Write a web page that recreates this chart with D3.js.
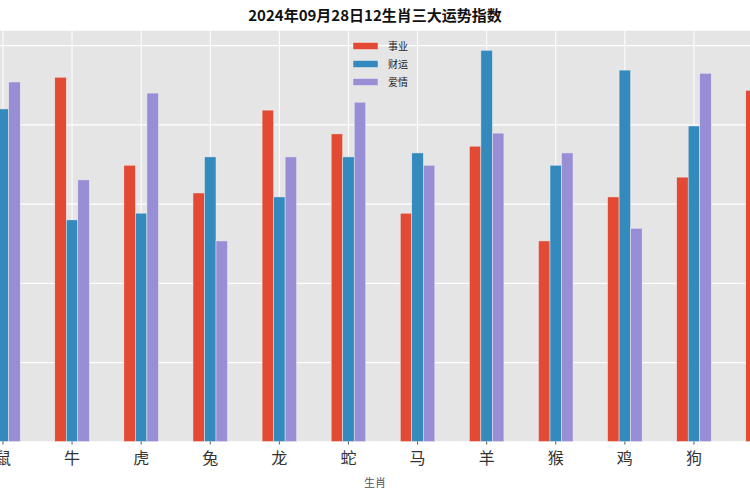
<!DOCTYPE html>
<html>
<head>
<meta charset="utf-8">
<script src="https://cdn.jsdelivr.net/npm/d3@7"></script>
<style>
  body { margin: 0; background: #fff; }
  text { font-family: "Noto Sans CJK SC", "Noto Sans", sans-serif; }
</style>
</head>
<body>
<script>
// data
var zodiac = ["鼠", "牛", "虎", "兔", "龙", "蛇", "马", "羊", "猴", "鸡", "狗", "猪"];
var seriesNames = ["事业", "财运", "爱情"];
var career = [80.0, 91.9, 69.7, 62.7, 83.6, 77.6, 57.6, 74.5, 50.6, 61.7, 66.7, 88.6];
var wealth = [83.9, 55.9, 57.6, 71.8, 61.7, 71.8, 72.8, 98.7, 69.7, 93.7, 79.6, 70.0];
var love   = [90.7, 66.0, 87.9, 50.6, 71.8, 85.6, 69.7, 77.8, 72.8, 53.8, 92.9, 80.0];
var yTicks = [0, 20, 40, 60, 80, 100];
var colors = ["#E24A33", "#348ABD", "#988ED5"];

var width = 750;
var height = 500;

var svg = d3.select("body")
  .append("svg")
  .attr("width", width)
  .attr("height", height);

// plot area is wider than the picture, both sides are cut off
var plot = {left: -31.6, right: 797.6, top: 30.7, bottom: 441.5};

var series = [career, wealth, love];
var maxVal = d3.max(series, function(s){ return d3.max(s); });

var x = d3.scaleBand()
  .domain(zodiac)
  .range([plot.left, plot.right])
  .padding(0);

var inner = d3.scaleBand()
  .domain(d3.range(series.length))
  .range([x.bandwidth() * 0.25, x.bandwidth() * 0.75]);

var y = d3.scaleLinear()
  .domain([0, maxVal * 1.05])
  .range([plot.bottom, plot.top]);

svg.append("rect")
  .attr("x", plot.left)
  .attr("y", plot.top)
  .attr("width", plot.right - plot.left)
  .attr("height", plot.bottom - plot.top)
  .attr("fill", "#E5E5E5");

// horizontal grid
var yAxis = d3.axisLeft(y)
  .tickValues(yTicks)
  .tickSize(-(plot.right - plot.left))
  .tickFormat("");

svg.append("g")
  .attr("class", "grid")
  .attr("transform", "translate(" + plot.left + ",0)")
  .call(yAxis)
  .call(function(g){
    g.select(".domain").remove();
    g.selectAll("line").attr("stroke", "#fff").attr("stroke-width", 1.2);
  });

// vertical grid
svg.append("g")
  .selectAll("line")
  .data(zodiac)
  .enter()
  .append("line")
  .attr("x1", function(d){ return x(d) + x.bandwidth() / 2; })
  .attr("x2", function(d){ return x(d) + x.bandwidth() / 2; })
  .attr("y1", plot.top)
  .attr("y2", plot.bottom)
  .attr("stroke", "#fff")
  .attr("stroke-width", 1);

// bars
series.forEach(function(s, k){
  svg.append("g")
    .selectAll("rect")
    .data(s)
    .enter()
    .append("rect")
    .attr("x", function(d, i){ return x(zodiac[i]) + inner(k); })
    .attr("y", function(d){ return y(d); })
    .attr("width", inner.bandwidth())
    .attr("height", function(d){ return y(0) - y(d); })
    .attr("fill", colors[k])
    .attr("stroke", "#EEEEEE")
    .attr("stroke-width", 0.5);
});

// x axis
var xAxis = d3.axisBottom(x)
  .tickSize(3)
  .tickPadding(8);

svg.append("g")
  .attr("transform", "translate(0," + plot.bottom + ")")
  .call(xAxis)
  .call(function(g){
    g.select(".domain").remove();
    g.selectAll("line").attr("stroke", "#555");
    g.selectAll("text")
      .attr("fill", "#333")
      .style("font-size", "16px")
      .style("font-family", "'Noto Sans CJK SC', sans-serif");
  });

svg.append("text")
  .attr("x", width / 2)
  .attr("y", 487)
  .attr("text-anchor", "middle")
  .attr("fill", "#555")
  .style("font-size", "11px")
  .text("生肖");

// title
svg.append("text")
  .attr("x", width / 2)
  .attr("y", 21)
  .attr("text-anchor", "middle")
  .attr("fill", "#111")
  .style("font-size", "15px")
  .style("font-weight", "bold")
  .text("2024年09月28日12生肖三大运势指数");

// legend
var legend = svg.append("g")
  .attr("transform", "translate(353,46)");

var items = legend.selectAll("g")
  .data(seriesNames)
  .enter()
  .append("g")
  .attr("transform", function(d, i){ return "translate(0," + i * 18 + ")"; });

items.append("rect")
  .attr("x", 0)
  .attr("y", -3.5)
  .attr("width", 25)
  .attr("height", 7)
  .attr("fill", function(d, i){ return colors[i]; })
  .attr("stroke", "#EEEEEE")
  .attr("stroke-width", 0.5);

items.append("text")
  .attr("x", 35)
  .attr("y", 0)
  .attr("dy", "0.35em")
  .attr("fill", "#222")
  .style("font-size", "10px")
  .text(function(d){ return d; });
</script>
</body>
</html>
